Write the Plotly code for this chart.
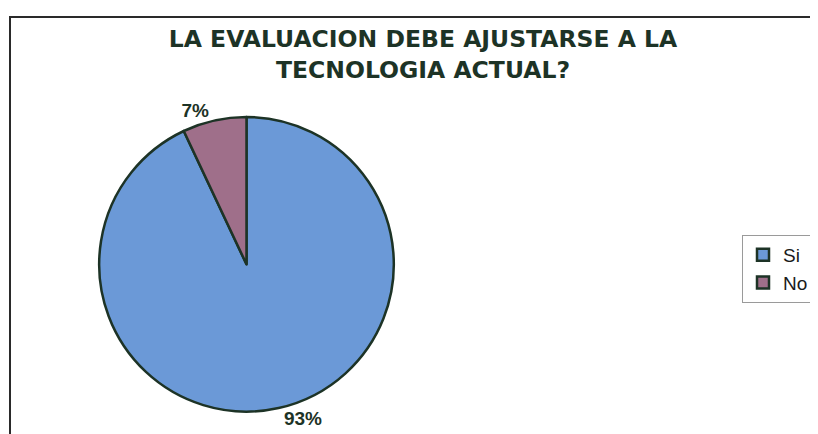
import plotly.graph_objects as go

# respuestas de la encuesta
categorias = ["Si", "No"]
porcentajes = [93, 7]
colores = ["#6b99d7", "#9f6f8a"]

titulo = "LA EVALUACION DEBE AJUSTARSE A LA<br>TECNOLOGIA ACTUAL?"

# la pagina deja 8px de margen en el body, se compensa aqui
W, H = 810, 426
OFF = 8


def px(x):
    return (x - OFF) / W


def py(y):
    return 1 - (y - OFF) / H


fig = go.Figure()
fig.add_trace(go.Pie(labels=categorias,
                     values=porcentajes,
                     sort=False,
                     direction="clockwise",
                     rotation=0,
                     marker=dict(colors=colores,
                                 line=dict(color="#1d3326", width=2.5)),
                     texttemplate="<b>%{percent:.0%}</b>",
                     textposition="outside",
                     outsidetextfont=dict(family="Liberation Sans, Arial", size=19,
                                          color="#1d3326"),
                     domain=dict(x=[px(98.5), px(394.5)], y=[py(413.5), py(117.5)]),
                     showlegend=True))

# marco del grafico
fig.add_shape(type="rect", xref="paper", yref="paper",
              x0=px(10), y0=-0.1, x1=1.1, y1=py(17),
              line=dict(color="#2a2a2a", width=2))

fig.update_layout(
    width=W, height=H,
    margin=dict(l=0, r=0, t=0, b=0),
    paper_bgcolor="white",
    plot_bgcolor="white",
    title=dict(text="<b>" + titulo + "</b>",
               x=px(423), xanchor="center",
               y=py(47), yanchor="top",
               font=dict(family="DejaVu Sans", size=23.5, color="#1d3326")),
    legend=dict(x=px(814), xanchor="right",
                y=py(236), yanchor="top",
                itemwidth=30,
                bgcolor="white",
                bordercolor="#9a9a9a", borderwidth=1,
                font=dict(family="Liberation Sans, Arial", size=19, color="#1a1a1a")),
)

fig.write_html("out.html")
